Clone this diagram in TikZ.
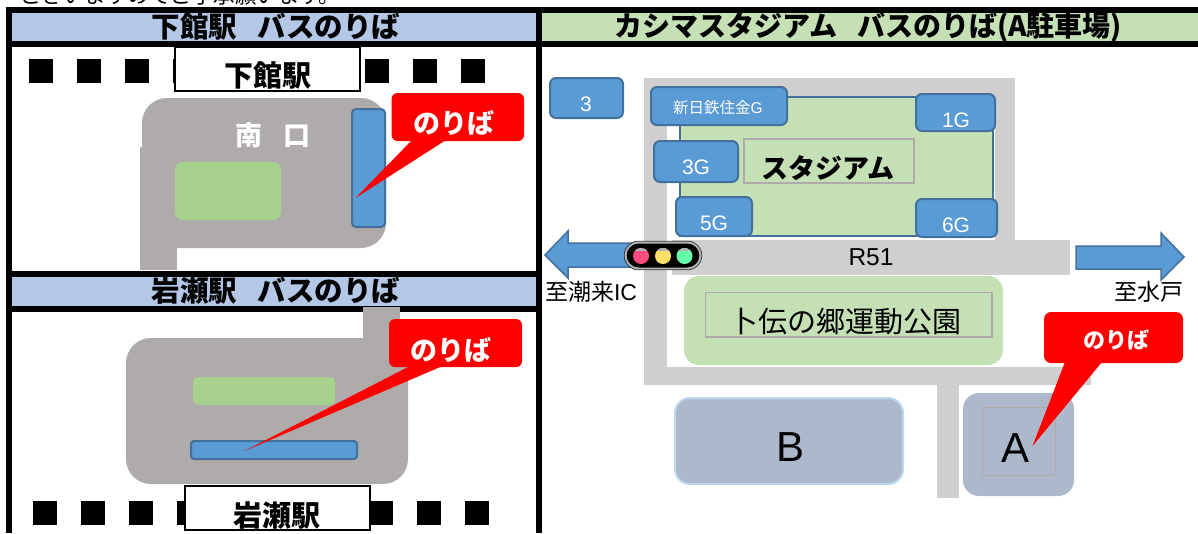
\documentclass[tikz,border=0pt]{standalone}
\usepackage{fontspec}
\setmainfont{Noto Sans CJK JP}
\setsansfont{Liberation Sans}
\definecolor{hblue}{HTML}{B4C7E7}
\definecolor{hgreen}{HTML}{C5E0B4}
\definecolor{plaza}{HTML}{AFABAB}
\definecolor{road}{HTML}{D0CECE}
\definecolor{lawn}{HTML}{A9D18E}
\definecolor{bbus}{HTML}{5B9BD5}
\definecolor{bline}{HTML}{41719C}
\definecolor{lot}{HTML}{ADB9CA}
\definecolor{lotline}{HTML}{BDD7EE}
\definecolor{tag}{HTML}{AFABAB}
\tikzset{
  x=1pt,y=-1pt,
  box/.style={inner sep=0,outer sep=0,text=black},
  zone/.style={fill=bbus,draw=bline,line width=2pt,rounded corners=6pt},
  lbl/.style={box,text=white,font=\sffamily\fontsize{21}{21}\selectfont},
  head/.style={box,font=\bfseries\fontsize{28.5}{28.5}\selectfont},
  stn/.style={box,font=\bfseries\fontsize{29}{29}\selectfont},
  call/.style={fill=red,draw=none},
}
\begin{document}
\begin{tikzpicture}
\useasboundingbox (0,0) rectangle (1198,533);
\clip (0,0) rectangle (1198,533);
% clipped line of text above
\node[box,anchor=base west,font=\fontsize{21.5}{21.5}\selectfont] (topline) at (20,3) {ございますのでご了承願います。};
% frames
\fill[black] (6,7) rectangle (1198,47);
\fill[black] (6,7) rectangle (12,533);
\fill[black] (536,7) rectangle (542,533);
\fill[black] (6,271) rectangle (542,312);
\fill[hblue] (12,13) rectangle (536,41);
\fill[hblue] (12,277) rectangle (536,306);
\fill[hgreen] (542,13) rectangle (1198,41);
\node[head] (h1) at (276,27) {下館駅\hspace{.72em}バスのりば};
\node[head] (h2) at (276,291) {岩瀬駅\hspace{.72em}バスのりば};
\node[head,font=\bfseries\fontsize{28}{28}\selectfont] (h3) at (868.5,27) {カシマスタジアム\hspace{.72em}バスのりば(A駐車場)};
% Shimodate
\foreach \x in {29,77,125,173,365,413,461} \fill[black] (\x,59) rectangle ++(24,24);
\draw[black,fill=white,line width=1.2pt] (175,47) rectangle (360,91);
\node[stn] (s1) at (268,76) {下館駅};
\fill[plaza] (140,147) rectangle (177,270);
\fill[plaza,rounded corners=25pt] (142,98) rectangle (386,248);
\fill[lawn,rounded corners=8pt] (175,162) rectangle (281,220);
\node[box,text=white,font=\bfseries\fontsize{27}{27}\selectfont] (south) at (273,135) {南\hspace{.75em}口};
\draw[zone,rounded corners=4pt] (352,109) rectangle (385,227);
\fill[call,rounded corners=6pt] (391.5,93) rectangle (524,141);
\fill[call] (412,140) -- (355.5,198) -- (446,140) -- cycle;
\node[box,text=white,font=\bfseries\fontsize{27}{27}\selectfont] (c1) at (454,123) {のりば};
% Iwase
\fill[plaza] (363,307) rectangle (400,345);
\fill[plaza,rounded corners=25pt] (126,338) rectangle (408,484);
\fill[lawn,rounded corners=5pt] (193,377) rectangle (335,405);
\draw[zone,rounded corners=3pt] (191,441) rectangle (357,459);
\foreach \x in {33,81,129,177,369,417,465} \fill[black] (\x,501) rectangle ++(24,24);
\draw[black,fill=white,line width=1.2pt] (185,486) rectangle (370,530);
\node[stn] (s2) at (277,516) {岩瀬駅};
\fill[call,rounded corners=6pt] (389,319) rectangle (522,367);
\fill[call] (410,366) -- (244.5,451) -- (442.5,366) -- cycle;
\node[box,text=white,font=\bfseries\fontsize{27}{27}\selectfont] (c2) at (451,350) {のりば};
% Kashima roads
\fill[road] (644,78) rectangle (1015,240);
\fill[white] (667,97) rectangle (995,240);
\fill[road] (644,240) rectangle (667,380);
\fill[road] (672,240) rectangle (1070,275);
\fill[road] (644,367) rectangle (1091,385);
\fill[road] (937,385) rectangle (959,498);
% stadium
\draw[fill=hgreen,draw=bline,line width=1.6pt] (680,97) rectangle (993,236);
\draw[draw=tag,line width=1.4pt] (744,139) rectangle (914,183);
\node[box,font=\bfseries\fontsize{27}{27}\selectfont] (sta) at (828,168) {スタジアム};
\draw[zone] (550,78) rectangle (623,118);
\node[lbl] (n3) at (586,104) {3};
\draw[zone] (651,87) rectangle (787,125);
\node[box,text=white,font=\fontsize{15.5}{15.5}\selectfont] (nn) at (718,108) {新日鉄住金\sffamily G};
\draw[zone] (916,94) rectangle (995,131);
\node[lbl] (n1) at (956,120) {1G};
\draw[zone] (654,141) rectangle (738,182);
\node[lbl] (n3g) at (696,167) {3G};
\draw[zone] (676,197) rectangle (752,236);
\node[lbl] (n5) at (714,223) {5G};
\draw[zone] (916,199) rectangle (997,237);
\node[lbl] (n6) at (956,225) {6G};
% arrows
\draw[fill=bbus,draw=bline,line width=1.5pt] (545,255) -- (568,231) -- (568,243) -- (640,243) -- (640,267) -- (568,267) -- (568,278) -- cycle;
\draw[fill=bbus,draw=bline,line width=1.5pt] (1076,246) -- (1161,246) -- (1161,233) -- (1184,257) -- (1161,280) -- (1161,269) -- (1076,269) -- cycle;
% signal
\draw[fill=black,draw=gray!60,line width=2pt,rounded corners=13pt] (625.5,242.5) rectangle (700.5,268.5);
\draw[draw=black!80,line width=.7pt,rounded corners=14pt] (624.2,241.2) rectangle (701.8,269.8);
\foreach \x/\c in {641/FF4C7F,663/FFE066,684.5/66FFAA}{
  \definecolor{lamp}{HTML}{\c}
  \fill[lamp] (\x,256) circle (8);
  \begin{scope}
    \clip (\x,256) circle (8);
    \fill[gray!60] (\x-9,247) rectangle (\x+9,251) ;
  \end{scope}
}
\node[box,font=\sffamily\fontsize{24.5}{24.5}\selectfont] (r51) at (871,257) {R51};
\node[box,font=\fontsize{23}{23}\selectfont] (chi) at (591,292) {至潮来\sffamily IC};
\node[box,font=\fontsize{23}{23}\selectfont] (mito) at (1149,292) {至水戸};
% park
\fill[hgreen,rounded corners=15pt] (684,276) rectangle (1003,365);
\draw[draw=tag,line width=1.4pt] (705.5,292.5) rectangle (992,337);
\node[box,font=\fontsize{29}{29}\selectfont] (park) at (845,322) {卜伝の郷運動公園};
% lots
\draw[fill=lot,draw=lotline,line width=2pt,rounded corners=15pt] (675,398) rectangle (903,484);
\node[box,font=\sffamily\fontsize{42}{42}\selectfont] (b) at (790,447) {B};
\fill[lot,rounded corners=16pt] (963,393) rectangle (1074,496);
\draw[draw=tag,line width=.7pt] (982,407) rectangle (1055,475);
\node[box,font=\sffamily\fontsize{42}{42}\selectfont] (a) at (1015,448) {A};
\fill[call,rounded corners=7pt] (1044,312) rectangle (1183,363);
\fill[call] (1065,362) -- (1032.5,446) -- (1102,362) -- cycle;
\node[box,text=white,font=\bfseries\fontsize{22}{22}\selectfont] (c3) at (1116,340) {のりば};
\end{tikzpicture}
\end{document}
